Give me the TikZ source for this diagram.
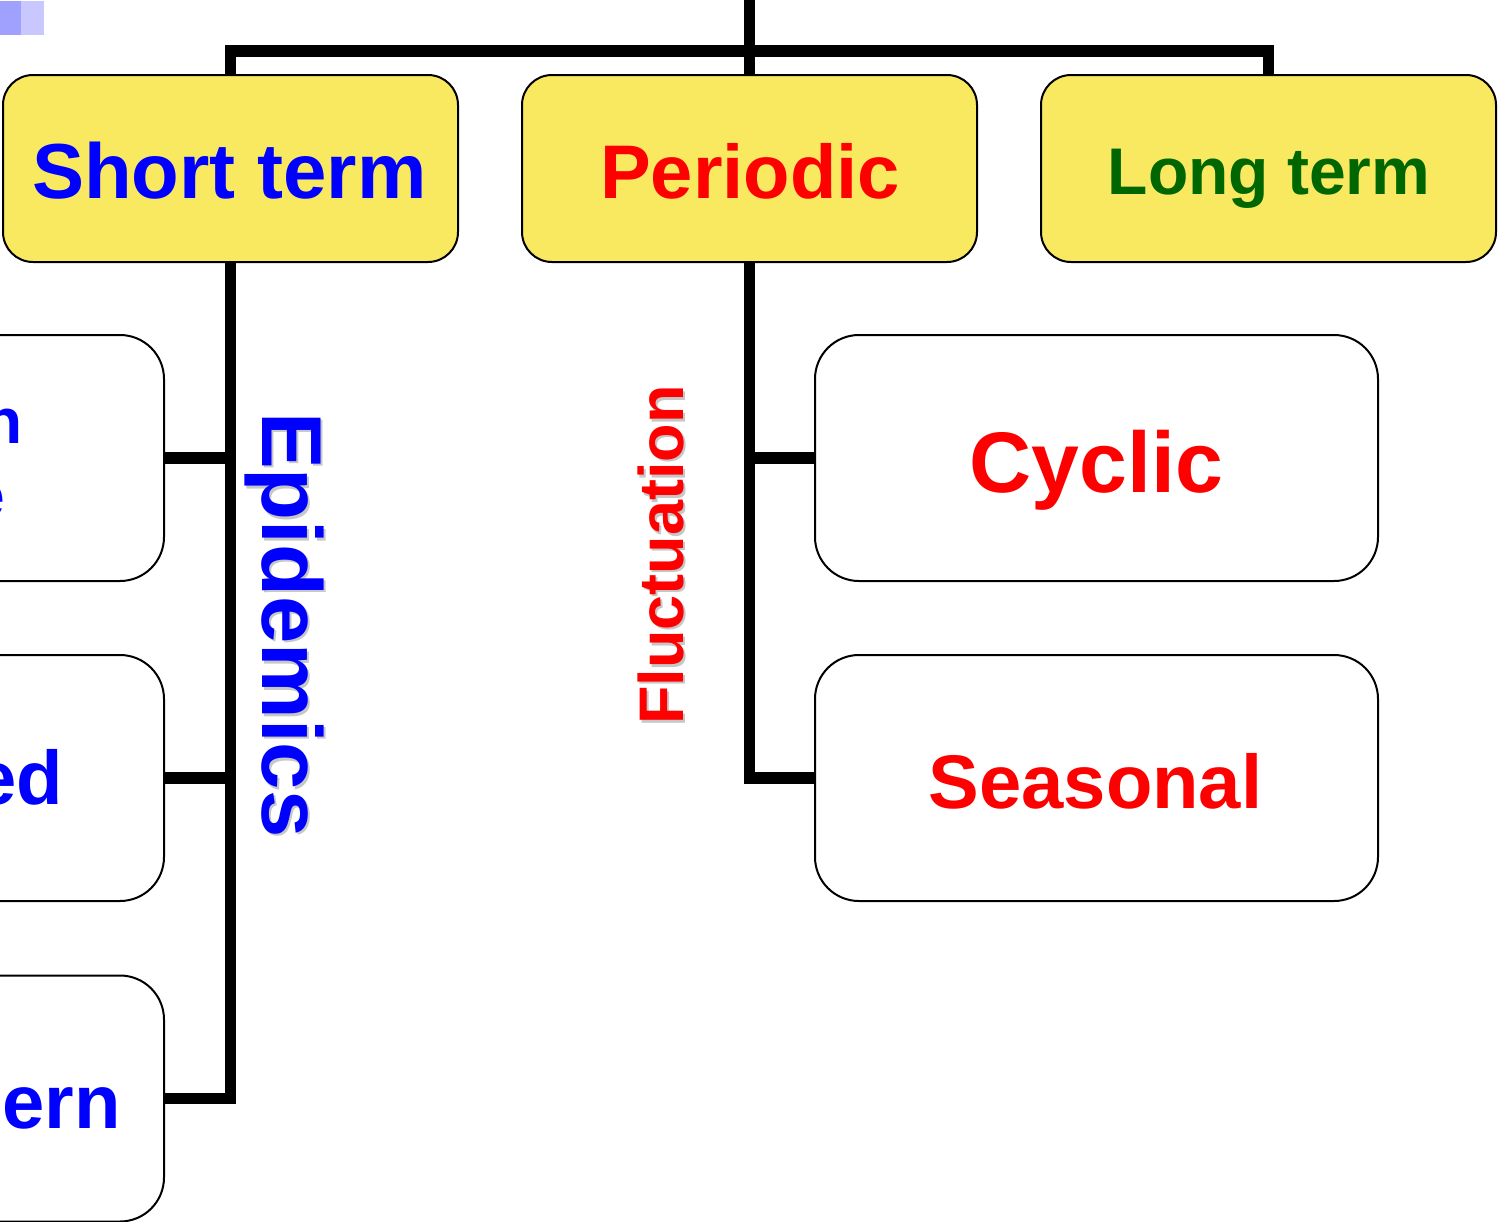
\documentclass[tikz,border=0pt]{standalone}
\usepackage{fontspec}
\setmainfont{Liberation Sans}
\definecolor{boxyellow}{RGB}{249,233,96}
\definecolor{sqdark}{RGB}{160,160,255}
\definecolor{sqlight}{RGB}{200,200,255}
\definecolor{txtblue}{RGB}{0,0,255}
\definecolor{txtred}{RGB}{255,0,0}
\definecolor{txtgreen}{RGB}{0,102,0}
\begin{document}
\begin{tikzpicture}[x=1pt,y=-1pt,
  ybox/.style={draw=black, line width=2pt, fill=boxyellow, rounded corners=30pt,
    minimum width=455pt, minimum height=187pt, inner sep=0pt},
  wbox/.style={draw=black, line width=2pt, fill=white, rounded corners=44pt,
    minimum width=563pt, minimum height=246pt, inner sep=0pt},
  conn/.style={line width=11.5pt, draw=black},
  lbl/.style={inner sep=0pt, font=\bfseries\fontsize{#1}{#1}\selectfont},
  shadowtxt/.style={text=black!22}
]
\useasboundingbox (0,0) rectangle (1499,1221);
\clip (0,0) rectangle (1499,1221);

% corner squares
\fill[sqdark] (0,1) rectangle (21,35);
\fill[sqlight] (21,1) rectangle (44,35);

% boxes
\node[ybox] (st) at (230.5,168.5) {};
\node[ybox] (pe) at (749.5,168.5) {};
\node[ybox] (lt) at (1268.5,168.5) {};

\node[wbox] (l1) at (-117.5,458) {};
\node[wbox] (l2) at (-117.5,778) {};
\node[wbox] (l3) at (-117.5,1098.5) {};

\node[wbox] (cy) at (1096.5,458) {};
\node[wbox] (se) at (1096.5,778) {};

% connectors
\coordinate (top) at (749.5,0);
\coordinate (hub) at (749.5,51);
\draw[conn] (top) -- (pe.north);
\draw[conn] (st.north) |- (hub) -| (lt.north);
\draw[conn] (st.south) |- (l3.east);
\draw[conn] (l1.east) -- (l1.east -| st.south);
\draw[conn] (l2.east) -- (l2.east -| st.south);
\draw[conn] (pe.south) |- (se.west);
\draw[conn] (cy.west) -- (cy.west -| pe.south);

% labels in top boxes
\node[lbl=78, text=txtblue, anchor=base] (tst) at (229.5,198) {Short term};
\node[lbl=76, text=txtred, anchor=base] (tpe) at (750,198) {Periodic};
\node[lbl=66, text=txtgreen, anchor=base] (tlt) at (1269,194) {Long term};

% labels in right boxes
\node[lbl=86, text=txtred, anchor=base] (tcy) at (1096.5,492) {Cyclic};
\node[lbl=76, text=txtred, anchor=base] (tse) at (1095.5,808) {Seasonal};

% cut-off labels in left boxes
\node[lbl=64, text=txtblue, anchor=base east] (tl1a) at (23,443) {n};
\node[lbl=64, text=txtblue, anchor=base east] (tl1b) at (5,517) {e};
\node[lbl=76, text=txtblue, anchor=base east] (tl2) at (63,804) {ed};
\node[lbl=76, text=txtblue, anchor=base east] (tl3) at (121,1128) {ern};

% rotated labels with soft shadow
\node[lbl=85, shadowtxt, rotate=-90, anchor=base west] at (264.5,414.5) {Epidemics};
\node[lbl=85, text=txtblue, rotate=-90, anchor=base west] (tep) at (262,412) {Epidemics};
\node[lbl=63, shadowtxt, rotate=90, anchor=base west] at (685.5,727.5) {Fluctuation};
\node[lbl=63, text=txtred, rotate=90, anchor=base west] (tfl) at (683,725) {Fluctuation};
\end{tikzpicture}
\end{document}
